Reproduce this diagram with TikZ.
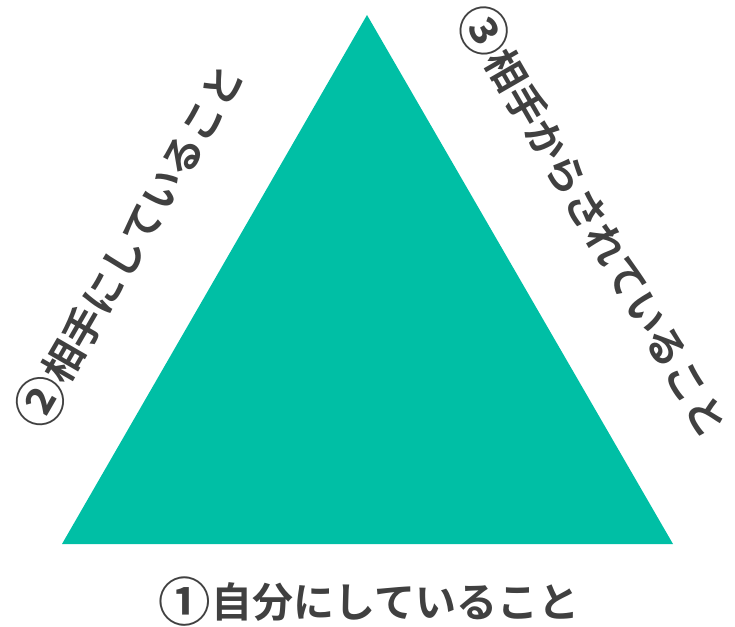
\documentclass[tikz,border=0pt]{standalone}
\usepackage{fontspec}
\newfontfamily\jpfont{Noto Sans CJK JP}[BoldFont={* Bold}]
\usepackage{tikz}
\usetikzlibrary{calc}
\definecolor{tealfill}{HTML}{00BFA5}
\definecolor{labelgray}{HTML}{404040}
\newcommand{\bignum}[1]{\raisebox{-0.1em}{\scalebox{1.28}{#1}}}
\tikzset{lbl/.style={text=labelgray, font=\jpfont\bfseries\fontsize{40}{40}\selectfont, inner sep=0pt}}

\begin{document}
\begin{tikzpicture}[x=1pt,y=1pt]
            \useasboundingbox (0,0) rectangle (735,626);
            \coordinate (top) at (367,611);
            \coordinate (left) at (62,82);
            \coordinate (right) at (673,82);
            \fill[tealfill] (top) -- (left) -- (right) -- cycle;
            \node[lbl, font=\jpfont\bfseries\fontsize{41}{41}\selectfont] (self) at (369,24) {\bignum{①}自分にしていること};
            \node[lbl, rotate=60] (toother) at (130,380) {\bignum{②}相手にしていること};
            \node[lbl, rotate=-60] (fromother) at (594,405) {\bignum{③}相手からされていること};
        \end{tikzpicture}
\end{document}
